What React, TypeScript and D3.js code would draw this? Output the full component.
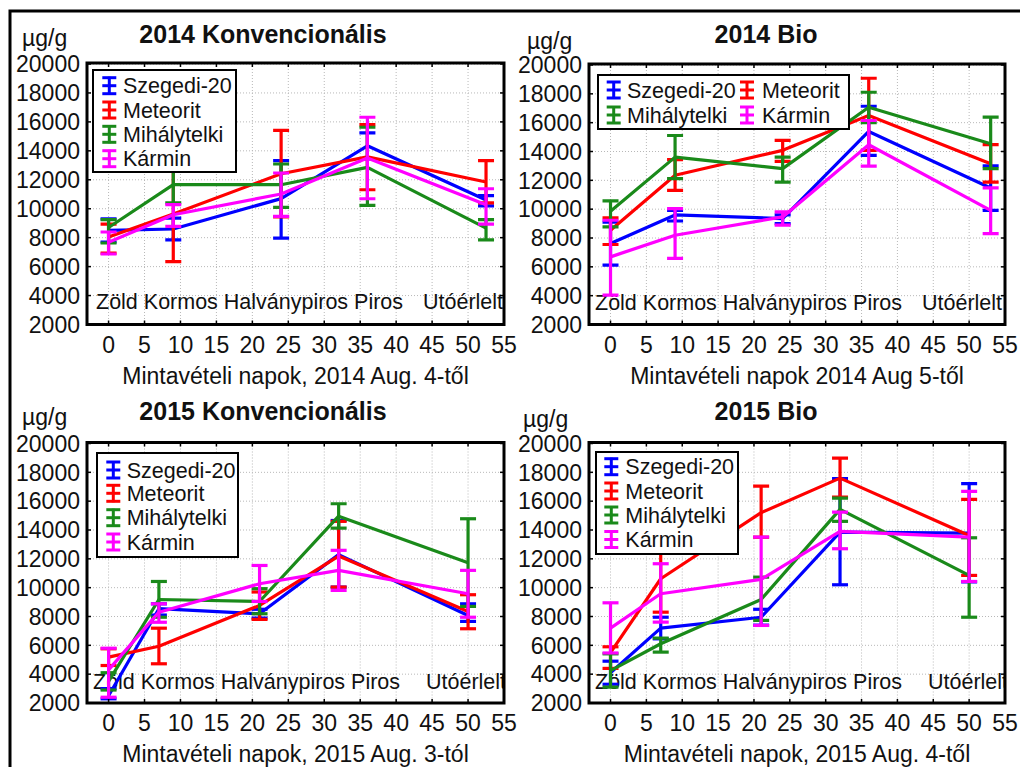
import React from "react";
import * as d3 from "d3";

// ---------- data ----------
const seriesNames = ["Szegedi-20", "Meteorit", "Mihálytelki", "Kármin"];
const seriesColors = ["#0000ff", "#ff0000", "#1a8a1a", "#ff00ff"];

const xTicks = [0, 5, 10, 15, 20, 25, 30, 35, 40, 45, 50, 55];
const yTicks = [2000, 4000, 6000, 8000, 10000, 12000, 14000, 16000, 18000, 20000];

// 2014 Konvencionális
const days14K = [0, 9, 24, 36, 52.5];
const mean14K = [
  [8500, 8600, 10700, 14350, 10600],
  [8050, 9630, 12420, 13580, 11850],
  [8700, 11660, 11660, 12860, 8660],
  [7690, 9580, 11020, 13510, 10280],
];
const lo14K = [
  [7700, 7850, 7970, 13450, 10200],
  [6930, 6350, 9430, 11310, 10400],
  [7630, 10400, 10090, 10230, 7850],
  [6870, 8780, 9470, 10690, 8940],
];
const hi14K = [
  [9300, 9350, 13320, 15240, 10900],
  [8940, 12900, 15420, 15810, 13320],
  [9240, 12900, 13090, 15630, 9240],
  [8390, 10280, 12470, 16320, 11380],
];

// 2014 Bio
const days14B = [0, 9, 24, 36, 53];
const mean14B = [
  [7620, 9600, 9350, 15390, 11470],
  [8540, 12350, 14080, 16500, 13150],
  [9850, 13610, 12810, 17070, 14540],
  [6690, 8190, 9460, 14470, 9920],
];
const lo14B = [
  [6120, 9180, 9000, 13730, 9920],
  [7550, 11310, 13320, 14080, 11880],
  [8770, 12120, 11880, 16000, 12810],
  [4040, 6580, 8890, 12990, 8310],
];
const hi14B = [
  [9100, 9920, 9600, 17140, 13000],
  [9400, 13430, 14770, 19080, 14470],
  [10570, 15110, 13610, 18110, 16380],
  [9230, 10040, 9810, 16150, 11470],
];

// 2015 Konvencionális
const days15K = [0, 7, 21, 32, 50];
const mean15K = [
  [2500, 8540, 8190, 12290, 8070],
  [5180, 5940, 8770, 12190, 8350],
  [3500, 9180, 9040, 14960, 11730],
  [4300, 8300, 10270, 11200, 9580],
];
const lo15K = [
  [2290, 8100, 7890, 10040, 7660],
  [4600, 4720, 7800, 10040, 7150],
  [2900, 7950, 8190, 14130, 8700],
  [2400, 7600, 9040, 9810, 7950],
];
const hi15K = [
  [3000, 8880, 8500, 14660, 8880],
  [5760, 7190, 9700, 14600, 9510],
  [4100, 10430, 9930, 15820, 14780],
  [5800, 8880, 11540, 12590, 11200],
];

// 2015 Bio
const days15B = [0, 7, 21, 32, 50];
const mean15B = [
  [4100, 7190, 7950, 13850, 13780],
  [5500, 10620, 15200, 17600, 13620],
  [4250, 6110, 9180, 15430, 10850],
  [7190, 9580, 10570, 13900, 13510],
];
const lo15B = [
  [3300, 6450, 7400, 10200, 10400],
  [4400, 8300, 13500, 16280, 10850],
  [3100, 5530, 7730, 14600, 7950],
  [5470, 7610, 7380, 12700, 10430],
];
const hi15B = [
  [4900, 7950, 8500, 17560, 17210],
  [5900, 12900, 17040, 18990, 16120],
  [5410, 6500, 10730, 16210, 13460],
  [8950, 11660, 13510, 15240, 16680],
];

const titles = ["2014 Konvencionális", "2014 Bio", "2015 Konvencionális", "2015 Bio"];
const xTitles = [
  "Mintavételi napok, 2014 Aug. 4-től",
  "Mintavételi napok 2014 Aug 5-től",
  "Mintavételi napok, 2015 Aug. 3-tól",
  "Mintavételi napok, 2015 Aug. 4-től",
];
const stageText = "Zöld Kormos Halványpiros Piros";
const stageLast = "Utóérlelt";
const unitLabel = "µg/g";

// ---------- layout ----------
const FONT = "'Liberation Sans', Arial, sans-serif";
const FS = 21.5; // stage + legend
const FS_AX = 23; // tick labels, axis titles

type Layout = {
  left: number; right: number; top: number; bottom: number;
  titleX: number; titleY: number; unitX: number; unitY: number;
  stageY: number; stageX: number; lastX: number;
  legend: { x: number; y: number; w: number; h: number; items: { sx: number; tx: number; cy: number }[] };
};

const layouts: Layout[] = [
  {
    left: 87, right: 504, top: 63, bottom: 324.5,
    titleX: 263, titleY: 43, unitX: 22, unitY: 46,
    stageY: 309, stageX: 96, lastX: 423,
    legend: { x: 93, y: 70, w: 143, h: 102,
      items: [ { sx: 109.3, tx: 123, cy: 85.7 }, { sx: 109.3, tx: 123, cy: 110 }, { sx: 109.3, tx: 123, cy: 134.3 }, { sx: 109.3, tx: 123, cy: 158.7 } ] },
  },
  {
    left: 589, right: 1005, top: 64, bottom: 324.5,
    titleX: 766, titleY: 43, unitX: 527, unitY: 49,
    stageY: 310, stageX: 595, lastX: 922,
    legend: { x: 598, y: 75, w: 251, h: 54,
      items: [ { sx: 613.7, tx: 627, cy: 90 }, { sx: 747, tx: 762, cy: 90 }, { sx: 613.7, tx: 627, cy: 115 }, { sx: 747, tx: 762, cy: 115 } ] },
  },
  {
    left: 87, right: 504, top: 442.5, bottom: 703,
    titleX: 263, titleY: 420, unitX: 22, unitY: 425,
    stageY: 689, stageX: 93, lastX: 426,
    legend: { x: 97, y: 453, w: 141, h: 104,
      items: [ { sx: 113.3, tx: 126.7, cy: 470 }, { sx: 113.3, tx: 126.7, cy: 493.3 }, { sx: 113.3, tx: 126.7, cy: 517.7 }, { sx: 113.3, tx: 126.7, cy: 542 } ] },
  },
  {
    left: 589, right: 1005, top: 442.5, bottom: 703,
    titleX: 766, titleY: 420, unitX: 523, unitY: 427,
    stageY: 689, stageX: 595, lastX: 928,
    legend: { x: 596, y: 452, w: 142, h: 102,
      items: [ { sx: 611.3, tx: 625.3, cy: 466.7 }, { sx: 611.3, tx: 625.3, cy: 491 }, { sx: 611.3, tx: 625.3, cy: 515 }, { sx: 611.3, tx: 625.3, cy: 539.5 } ] },
  },
];

const panelData = [
  { days: days14K, mean: mean14K, lo: lo14K, hi: hi14K },
  { days: days14B, mean: mean14B, lo: lo14B, hi: hi14B },
  { days: days15K, mean: mean15K, lo: lo15K, hi: hi15K },
  { days: days15B, mean: mean15B, lo: lo15B, hi: hi15B },
];

function Panel({ idx }: { idx: number }) {
  const L = layouts[idx];
  const D = panelData[idx];
  const x = d3.scaleLinear().domain([-3, 55]).range([L.left, L.right]);
  const y = d3.scaleLinear().domain([2000, 20000]).range([L.bottom, L.top + 1]);
  const line = d3.line<[number, number]>().x((d) => x(d[0])).y((d) => y(d[1]));
  const capW = 8;
  const clipId = `clip${idx}`;

  return (
    <g>
      <defs>
        <clipPath id={clipId}>
          <rect x={L.left} y={L.top} width={L.right - L.left} height={L.bottom - L.top} />
        </clipPath>
      </defs>
      {/* grid */}
      <g stroke="#b8b8b8" strokeWidth={1} strokeDasharray="1,2">
        {xTicks.map((t) => (
          <line key={"gx" + t} x1={x(t)} x2={x(t)} y1={L.top} y2={L.bottom} />
        ))}
        {yTicks.map((t) => (
          <line key={"gy" + t} x1={L.left} x2={L.right} y1={y(t)} y2={y(t)} />
        ))}
      </g>
      {/* stage labels */}
      <g clipPath={`url(#${clipId})`} fontFamily={FONT} fontSize={FS} fill="#111">
        <text x={L.stageX} y={L.stageY}>{stageText}</text>
        <text x={L.lastX} y={L.stageY}>{stageLast}</text>
      </g>
      {/* series */}
      <g clipPath={`url(#${clipId})`}>
        {seriesNames.map((s, si) => {
          const pts = D.days.map((d, i) => [d, D.mean[si][i]] as [number, number]);
          return (
            <g key={s} stroke={seriesColors[si]} strokeWidth={3.2} fill="none">
              <path d={line(pts) || ""} strokeLinejoin="round" />
              {D.days.map((d, i) => {
                const cx = x(d);
                const yl = y(D.lo[si][i]);
                const yh = y(D.hi[si][i]);
                return (
                  <g key={i}>
                    <line x1={cx} x2={cx} y1={yl} y2={yh} />
                    <line x1={cx - capW} x2={cx + capW} y1={yl} y2={yl} />
                    <line x1={cx - capW} x2={cx + capW} y1={yh} y2={yh} />
                  </g>
                );
              })}
            </g>
          );
        })}
      </g>
      {/* ticks inside */}
      <g stroke="#000" strokeWidth={1.5}>
        {xTicks.map((t) => (
          <g key={"tx" + t}>
            <line x1={x(t)} x2={x(t)} y1={L.bottom} y2={L.bottom - 4} />
            <line x1={x(t)} x2={x(t)} y1={L.top} y2={L.top + 4} />
          </g>
        ))}
        {yTicks.map((t) => (
          <g key={"ty" + t}>
            <line x1={L.left} x2={L.left + 4} y1={y(t)} y2={y(t)} />
            <line x1={L.right} x2={L.right - 4} y1={y(t)} y2={y(t)} />
          </g>
        ))}
      </g>
      {/* frame */}
      <rect x={L.left} y={L.top} width={L.right - L.left} height={L.bottom - L.top} fill="none" stroke="#000" strokeWidth={3} />
      {/* axis labels */}
      <g fontFamily={FONT} fontSize={FS_AX} fill="#111">
        {yTicks.map((t) => (
          <text key={"ly" + t} x={L.left - 7} y={y(t)} dy="0.36em" textAnchor="end">{t}</text>
        ))}
        {xTicks.map((t) => (
          <text key={"lx" + t} x={x(t)} y={L.bottom + 28} textAnchor="middle">{t}</text>
        ))}
        <text x={(L.left + L.right) / 2} y={L.bottom + 59} textAnchor="middle">{xTitles[idx]}</text>
        <text x={L.unitX} y={L.unitY}>{unitLabel}</text>
      </g>
      <text x={L.titleX} y={L.titleY} textAnchor="middle" fontFamily={FONT} fontSize={25} fontWeight="bold" fill="#111">{titles[idx]}</text>
      {/* legend */}
      <g>
        <rect x={L.legend.x} y={L.legend.y} width={L.legend.w} height={L.legend.h} fill="#fff" stroke="#000" strokeWidth={2} />
        {seriesNames.map((s, si) => {
          const it = L.legend.items[si];
          return (
            <g key={"lg" + s}>
              <g stroke={seriesColors[si]} strokeWidth={3}>
                <line x1={it.sx} x2={it.sx} y1={it.cy - 9} y2={it.cy + 9} />
                <line x1={it.sx - 7} x2={it.sx + 7} y1={it.cy - 8} y2={it.cy - 8} />
                <line x1={it.sx - 7} x2={it.sx + 7} y1={it.cy} y2={it.cy} />
                <line x1={it.sx - 7} x2={it.sx + 7} y1={it.cy + 8} y2={it.cy + 8} />
              </g>
              <text x={it.tx} y={it.cy} dy="0.36em" fontFamily={FONT} fontSize={FS} fill="#111">{s}</text>
            </g>
          );
        })}
      </g>
    </g>
  );
}

export default function App() {
  return (
    <svg width={1020} height={767} style={{ position: "absolute", left: 0, top: 0, background: "#fff" }}>
      <rect x={0} y={0} width={1020} height={767} fill="#fff" />
      {[0, 1, 2, 3].map((i) => (
        <Panel key={i} idx={i} />
      ))}
      <rect x={10} y={11} width={1030} height={800} fill="none" stroke="#000" strokeWidth={3} />
    </svg>
  );
}
